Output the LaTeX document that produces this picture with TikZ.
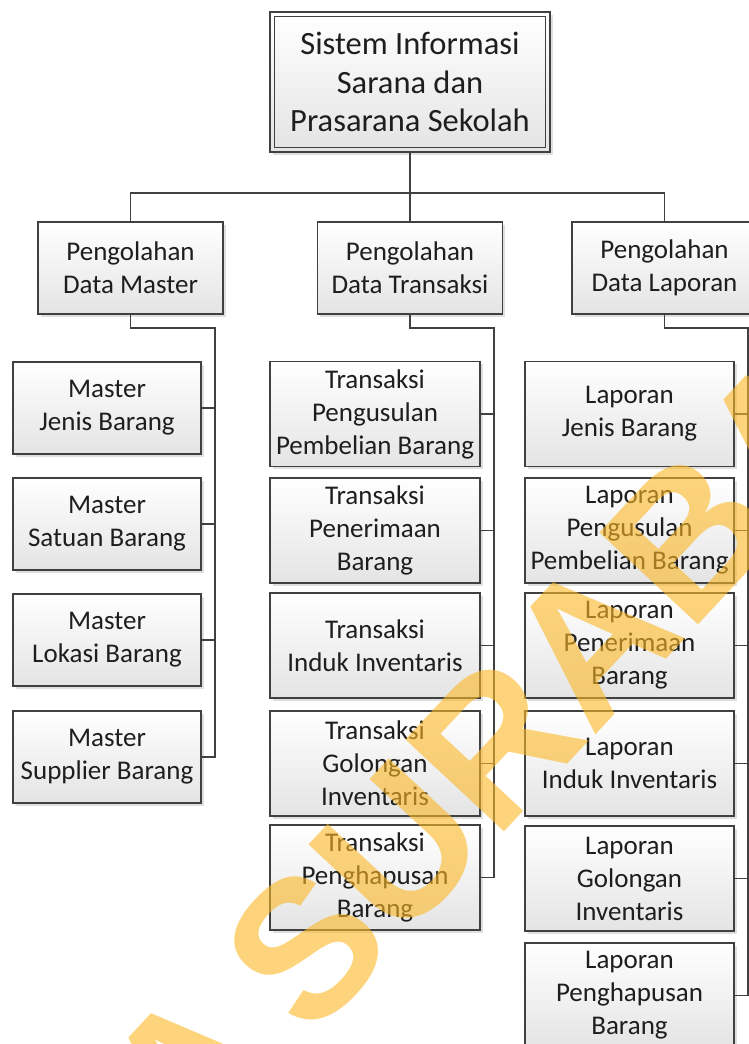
\documentclass[tikz,border=0pt]{standalone}
\usepackage{fontspec}
\setmainfont{Carlito}
\newfontfamily\wmfont{Liberation Sans}
\usetikzlibrary{shadows}
\definecolor{boxline}{HTML}{404040}
\definecolor{txt}{HTML}{1E1E1E}
\definecolor{wm}{HTML}{FCB825}
\definecolor{boxbot}{HTML}{E4E4E4}
\begin{document}
\begin{tikzpicture}[x=1pt,y=-1pt,
  box/.style={draw=boxline, line width=1.5pt, top color=white, bottom color=boxbot,
    text=txt, align=center, font=\fontsize{27}{33}\selectfont, inner sep=0pt,
    drop shadow={opacity=0.25, shadow xshift=2.5pt, shadow yshift=-2.5pt}},
  lvone/.style={box, minimum width=185pt, minimum height=92pt},
  mbox/.style={box, minimum width=188pt, minimum height=92pt},
  tbox/.style={box, minimum width=210pt, minimum height=105pt},
  lbox/.style={box, minimum width=209pt, minimum height=105pt},
  conn/.style={draw=boxline, line width=1.5pt},
]
\useasboundingbox (0,0) rectangle (749,1044);
\clip (0,0) rectangle (749,1044);

% root
\node[box, minimum width=280pt, minimum height=140pt, font=\fontsize{32.5}{38.5}\selectfont] (root) at (410,82)
  {Sistem Informasi\\Sarana dan\\Prasarana Sekolah};
\draw[boxline, line width=1.2pt] ([shift={(5,5)}]root.north west) rectangle ([shift={(-5,-5)}]root.south east);

% level 1
\node[lvone] (pm) at (130.5,268) {Pengolahan\\Data Master};
\node[lvone] (pt) at (410,268) {Pengolahan\\Data Transaksi};
\node[lvone] (pl) at (664.5,268) {Pengolahan\\Data Laporan};

% master column
\node[mbox] (m1) at (107,408) {Master\\Jenis Barang};
\node[mbox] (m2) at (107,524) {Master\\Satuan Barang};
\node[mbox] (m3) at (107,640) {Master\\Lokasi Barang};
\node[mbox] (m4) at (107,757) {Master\\Supplier Barang};

% transaksi column
\node[tbox] (t1) at (375,414) {Transaksi\\Pengusulan\\Pembelian Barang};
\node[tbox] (t2) at (375,530.5) {Transaksi\\Penerimaan\\Barang};
\node[tbox] (t3) at (375,645.5) {Transaksi\\Induk Inventaris};
\node[tbox] (t4) at (375,763.5) {Transaksi\\Golongan\\Inventaris};
\node[tbox] (t5) at (375,877.5) {Transaksi\\Penghapusan\\Barang};

% laporan column
\node[lbox] (l1) at (629.5,414) {Laporan\\Jenis Barang};
\node[lbox] (l2) at (629.5,530.5) {Laporan\\Pengusulan\\Pembelian Barang};
\node[lbox] (l3) at (629.5,645.5) {Laporan\\Penerimaan\\Barang};
\node[lbox] (l4) at (629.5,763.5) {Laporan\\Induk Inventaris};
\node[lbox] (l5) at (629.5,878.5) {Laporan\\Golongan\\Inventaris};
\node[lbox] (l6) at (629.5,995.5) {Laporan\\Penghapusan\\Barang};

% connectors root -> level 1
\coordinate (bus) at (410,193);
\draw[conn] (root.south) -- (bus);
\draw[conn] (pm.north) -- (pm.north |- bus) -- (pl.north |- bus) -- (pl.north);
\draw[conn] (pt.north) -- (pt.north |- bus);

% trunks
\coordinate (tm) at (215,328);
\coordinate (tt) at (494,328);
\coordinate (tl) at (748,328);
\draw[conn] (pm.south) |- (tm) -- (tm |- m4.east) -- (m4.east);
\foreach \n in {m1,m2,m3} \draw[conn] (\n.east) -- (\n.east -| tm);
\draw[conn] (pt.south) |- (tt) -- (tt |- t5.east) -- (t5.east);
\foreach \n in {t1,t2,t3,t4} \draw[conn] (\n.east) -- (\n.east -| tt);
\draw[conn] (pl.south) |- (tl) -- (tl |- l6.east) -- (l6.east);
\foreach \n in {l1,l2,l3,l4,l5} \draw[conn] (\n.east) -- (\n.east -| tl);

% watermark
\node[rotate=47, anchor=base west, inner sep=0pt, text=wm, text opacity=0.6,
  font=\wmfont\bfseries\fontsize{196}{196}\selectfont] (wmark) at (190,1170) {A\kern-0.1em{} SURABAYA};
\end{tikzpicture}
\end{document}
